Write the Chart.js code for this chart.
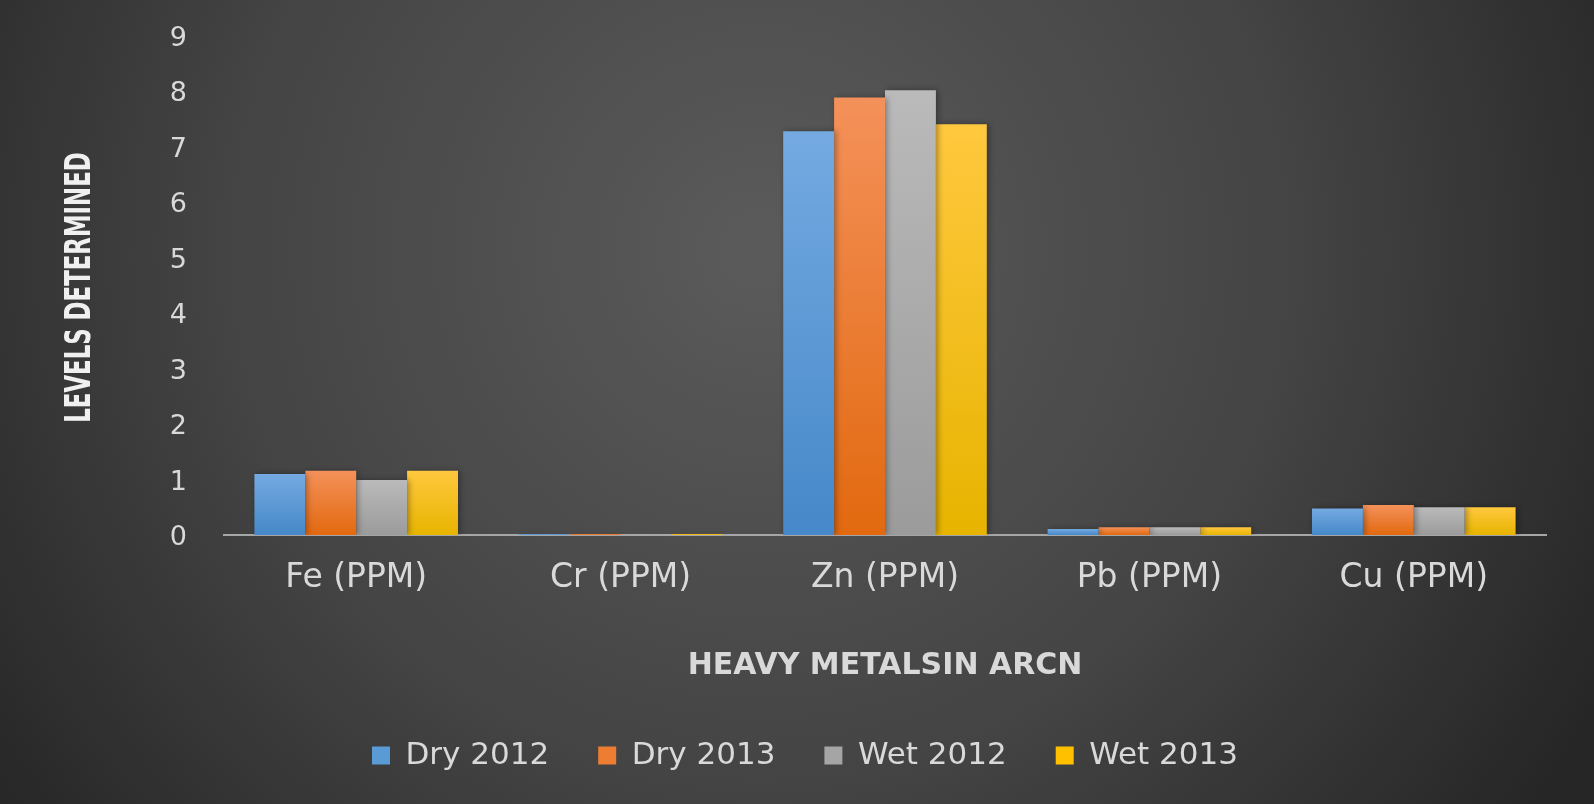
<!DOCTYPE html>
<html>
<head>
<meta charset="utf-8">
<script src="https://cdn.jsdelivr.net/npm/chart.js@4.4.1/dist/chart.umd.min.js"></script>
<style>
  html, body { margin: 0; padding: 0; background: #3a3a3a; }
  #wrap { width: 1594px; height: 804px; }
</style>
</head>
<body>
<div id="wrap"><canvas id="grafico" width="1594" height="804"></canvas></div>
<script>
const metais = ['Fe (PPM)', 'Cr (PPM)', 'Zn (PPM)', 'Pb (PPM)', 'Cu (PPM)'];
const series = ['Dry 2012', 'Dry 2013', 'Wet 2012', 'Wet 2013'];
const dry2012 = [1.10, 0.02, 7.28, 0.11, 0.48];
const dry2013 = [1.16, 0.02, 7.89, 0.14, 0.54];
const wet2012 = [0.99, 0.01, 8.02, 0.14, 0.50];
const wet2013 = [1.16, 0.02, 7.41, 0.14, 0.50];
const yTicks = [0, 1, 2, 3, 4, 5, 6, 7, 8, 9];
const tituloY = 'LEVELS DETERMINED';
const tituloX = 'HEAVY METALSIN ARCN';

// cores: topo e base do degrade de cada serie
const cores = [
  ['#74aae1', '#4688c9'],
  ['#f4915a', '#e2690f'],
  ['#bababa', '#9b9b9b'],
  ['#ffc83e', '#e7b400']
];
const coresLegenda = ['#5b9bd5', '#ed7d31', '#a5a5a5', '#ffc000'];

function degrade(i) {
  return function (ctx) {
    const chart = ctx.chart;
    if (!chart.chartArea || ctx.type !== 'data') return coresLegenda[i];
    const y = chart.scales.y;
    const base = y.getPixelForValue(0);
    const topo = Math.min(y.getPixelForValue(ctx.raw), base - 1);
    const g = chart.ctx.createLinearGradient(0, topo, 0, base);
    g.addColorStop(0, cores[i][0]);
    g.addColorStop(1, cores[i][1]);
    return g;
  };
}

const fundo = {
  id: 'fundo',
  beforeDraw(chart) {
    const c = chart.ctx;
    const g = c.createRadialGradient(760, 250, 20, 760, 250, 950);
    g.addColorStop(0, '#5a5a5a');
    g.addColorStop(0.55, '#444444');
    g.addColorStop(1, '#262626');
    c.save();
    c.fillStyle = g;
    c.fillRect(0, 0, chart.width, chart.height);
    c.restore();
  }
};

const sombra = {
  id: 'sombra',
  beforeDatasetsDraw(chart) {
    const c = chart.ctx;
    c.save();
    c.shadowColor = 'rgba(0,0,0,0.35)';
    c.shadowBlur = 6;
    c.shadowOffsetX = 2;
    c.shadowOffsetY = 0;
  },
  afterDatasetsDraw(chart) {
    chart.ctx.restore();
  }
};

// legenda um pouco a direita, como no original
const moveLegenda = {
  id: 'moveLegenda',
  afterLayout(chart) {
    chart.legend.left += 64;
  }
};

// titulo do eixo y, estreito como no original
const tituloEixoY = {
  id: 'tituloEixoY',
  afterDraw(chart) {
    const c = chart.ctx;
    const area = chart.chartArea;
    c.save();
    c.translate(81, (area.top + area.bottom) / 2 + 2);
    c.rotate(-Math.PI / 2);
    c.scale(0.725, 1);
    c.font = "bold 35px 'DejaVu Sans Condensed', 'DejaVu Sans', sans-serif";
    c.fillStyle = '#f0f0f0';
    c.textAlign = 'center';
    c.textBaseline = 'middle';
    c.fillText(tituloY, 0, 0);
    c.restore();
  }
};

const valores = [dry2012, dry2013, wet2012, wet2013];

new Chart(document.getElementById('grafico'), {
  type: 'bar',
  data: {
    labels: metais,
    datasets: series.map((nome, i) => ({
      label: nome,
      data: valores[i],
      backgroundColor: degrade(i),
      borderWidth: 0,
      categoryPercentage: 0.77,
      barPercentage: 1.0
    }))
  },
  options: {
    responsive: false,
    animation: false,
    layout: { padding: { top: 36, right: 48, left: 0, bottom: 23 } },
    plugins: {
      tooltip: { enabled: false },
      legend: {
        position: 'bottom',
        labels: {
          color: '#d9d9d9',
          font: { family: 'DejaVu Sans', size: 31 },
          boxWidth: 18,
          boxHeight: 18,
          padding: 49,
          generateLabels(chart) {
            return series.map((nome, i) => ({
              text: nome,
              fillStyle: coresLegenda[i],
              strokeStyle: coresLegenda[i],
              lineWidth: 0,
              fontColor: '#d9d9d9',
              datasetIndex: i,
              hidden: false
            }));
          }
        }
      }
    },
    scales: {
      x: {
        grid: { display: false },
        border: { display: true, color: '#a6a6a6', width: 2 },
        ticks: {
          color: '#d9d9d9',
          font: { family: 'DejaVu Sans', size: 33 },
          padding: 16
        },
        title: {
          display: true,
          text: tituloX,
          color: '#d9d9d9',
          font: { family: 'DejaVu Sans', size: 30, weight: 'bold' },
          padding: { top: 0, bottom: 7 }
        },
        afterFit(s) {
          s.height = 804 - 23 - 535 - s.chart.legend.height;
        }
      },
      y: {
        min: 0,
        max: 9,
        afterBuildTicks(s) {
          s.ticks = yTicks.map(v => ({ value: v }));
        },
        grid: { display: false },
        border: { display: false },
        ticks: {
          color: '#d9d9d9',
          font: { family: 'DejaVu Sans', size: 27 },
          padding: 29,
          labelOffset: 3
        },
        afterFit(s) {
          s.width = 224;
          s.paddingTop = 0;
          s.paddingBottom = 0;
        }
      }
    }
  },
  plugins: [fundo, sombra, moveLegenda, tituloEixoY]
});
</script>
</body>
</html>
